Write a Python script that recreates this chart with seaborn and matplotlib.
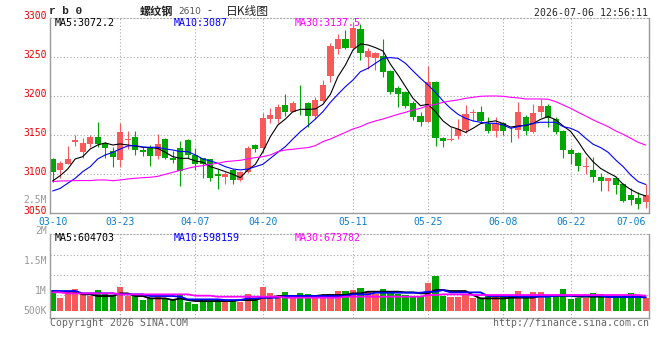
import numpy as np
import matplotlib
matplotlib.use("Agg")
import matplotlib.pyplot as plt
import matplotlib.transforms as mtransforms
import seaborn as sns

# => Data (rb0 daily K line, 03-10 .. 07-06)
tick_idx = [0, 9, 19, 28, 40, 50, 60, 69, 79]
tick_labels = ["03-10", "03-23", "04-07", "04-20", "05-11", "05-25", "06-08", "06-22", "07-06"]
price_ticks = [3050, 3100, 3150, 3200, 3250, 3300]
vol_tick_labels = ["2.5M", "2M", "1.5M", "1M", "500K"]
ma_labels = ["MA5:3072.2", "MA10:3087", "MA30:3137.5"]
vol_ma_labels = ["MA5:604703", "MA10:598159", "MA30:673782"]

opens = [3119.7, 3105.6, 3113.2, 3141.9, 3129.1, 3139.3, 3147.9, 3140.2, 3129.9, 3118.8,
         3144.4, 3147.9, 3131.6, 3135.0, 3123.5, 3145.3, 3121.4, 3134.2, 3144.0, 3124.8,
         3120.5, 3119.7, 3100.0, 3097.0, 3105.6, 3092.7, 3102.6, 3137.6, 3133.3, 3170.9,
         3170.9, 3188.9, 3180.3, 3190.6, 3191.0, 3175.2, 3194.0, 3226.5, 3260.7, 3273.5,
         3261.5, 3286.3, 3250.0, 3249.6, 3252.1, 3232.5, 3211.1, 3205.1, 3191.0, 3174.8,
         3167.5, 3218.7, 3147.0, 3144.4, 3149.6, 3156.8, 3179.1, 3179.5, 3164.1, 3155.6,
         3165.4, 3157.3, 3156.8, 3173.9, 3154.7, 3179.5, 3188.0, 3170.9, 3155.6, 3131.6,
         3127.4, 3109.4, 3105.6, 3096.6, 3091.9, 3095.7, 3087.6, 3073.5, 3070.1, 3065.0]
highs = [3120.5, 3117.5, 3136.8, 3150.4, 3146.2, 3150.4, 3167.5, 3141.9, 3135.5, 3166.2,
         3155.6, 3155.6, 3135.5, 3137.6, 3152.1, 3146.0, 3129.9, 3142.7, 3145.3, 3134.2,
         3121.4, 3120.0, 3106.8, 3103.4, 3106.8, 3104.3, 3136.8, 3138.5, 3179.1, 3185.5,
         3189.7, 3202.6, 3194.0, 3214.5, 3192.3, 3199.6, 3220.9, 3267.9, 3279.5, 3285.0,
         3294.9, 3292.3, 3262.4, 3257.3, 3273.5, 3233.8, 3213.7, 3206.8, 3194.0, 3180.3,
         3239.3, 3219.0, 3148.3, 3161.1, 3170.9, 3188.9, 3183.8, 3188.0, 3173.9, 3173.9,
         3166.7, 3161.1, 3193.2, 3176.1, 3189.7, 3196.6, 3189.7, 3173.9, 3156.8, 3134.2,
         3129.1, 3122.6, 3122.6, 3101.3, 3095.7, 3097.0, 3088.5, 3082.9, 3077.8, 3087.6]
lows = [3090.5, 3094.9, 3113.2, 3136.3, 3120.5, 3135.5, 3135.5, 3121.4, 3109.8, 3109.4,
        3132.0, 3124.8, 3123.9, 3111.1, 3119.7, 3119.7, 3114.5, 3085.5, 3120.5, 3105.6,
        3095.7, 3091.5, 3081.2, 3087.2, 3087.2, 3091.9, 3101.3, 3128.2, 3126.9, 3165.4,
        3165.4, 3175.2, 3179.5, 3176.1, 3161.1, 3170.9, 3192.3, 3218.8, 3253.8, 3260.7,
        3259.4, 3246.6, 3235.0, 3233.8, 3225.2, 3202.6, 3186.8, 3185.5, 3169.7, 3162.4,
        3166.7, 3136.3, 3135.5, 3142.7, 3145.3, 3152.6, 3168.4, 3165.4, 3152.6, 3148.3,
        3150.4, 3141.9, 3147.0, 3150.4, 3152.6, 3173.9, 3161.1, 3151.3, 3121.4, 3113.7,
        3104.3, 3100.0, 3090.6, 3078.6, 3078.6, 3074.4, 3065.0, 3060.7, 3055.6, 3057.0]
closes = [3103.4, 3114.1, 3119.7, 3143.6, 3140.2, 3147.9, 3139.3, 3134.2, 3122.6, 3154.3,
          3145.7, 3131.6, 3128.2, 3123.9, 3138.9, 3120.5, 3118.4, 3104.7, 3124.8, 3113.7,
          3112.8, 3095.7, 3098.3, 3100.0, 3092.7, 3102.6, 3134.2, 3132.5, 3171.8, 3176.1,
          3186.8, 3180.3, 3191.5, 3189.7, 3175.2, 3195.3, 3214.5, 3264.5, 3273.5, 3262.4,
          3288.0, 3255.1, 3258.1, 3255.1, 3231.6, 3205.1, 3203.0, 3188.0, 3173.9, 3167.5,
          3217.9, 3146.2, 3143.2, 3145.3, 3158.1, 3176.9, 3180.0, 3168.4, 3155.6, 3165.4,
          3155.6, 3156.4, 3179.5, 3155.6, 3178.2, 3188.0, 3171.8, 3154.7, 3130.8, 3126.5,
          3111.1, 3110.3, 3097.0, 3091.9, 3095.7, 3086.3, 3065.8, 3067.1, 3061.5, 3074.0]

ma5 = [3091.5, 3098.3, 3106.8, 3119.7, 3122.6, 3132.5, 3137.6, 3140.2, 3137.6, 3138.9,
       3137.6, 3136.3, 3134.6, 3134.2, 3133.3, 3128.2, 3122.6, 3120.5, 3120.5, 3117.1,
       3115.4, 3109.8, 3106.8, 3103.4, 3100.0, 3095.7, 3105.6, 3112.8, 3129.1, 3148.3,
       3163.2, 3170.9, 3180.3, 3183.3, 3183.3, 3183.8, 3189.7, 3202.6, 3225.2, 3240.2,
       3259.4, 3267.1, 3265.8, 3262.4, 3258.1, 3241.0, 3227.4, 3212.4, 3197.4, 3188.0,
       3189.7, 3180.3, 3168.4, 3161.1, 3158.0, 3153.8, 3159.0, 3165.0, 3167.0, 3168.5,
       3165.0, 3160.5, 3162.0, 3162.5, 3165.0, 3170.5, 3174.0, 3170.0, 3162.0, 3155.0,
       3142.0, 3127.5, 3116.0, 3107.5, 3102.0, 3097.0, 3087.0, 3080.5, 3075.5, 3072.2]
ma10 = [3078.6, 3082.0, 3088.5, 3094.9, 3103.4, 3109.8, 3119.7, 3124.8, 3128.2, 3132.5,
        3136.3, 3136.8, 3135.0, 3134.6, 3134.6, 3132.5, 3131.2, 3129.1, 3129.1, 3124.8,
        3119.7, 3117.1, 3114.1, 3109.8, 3106.8, 3105.6, 3106.8, 3109.8, 3112.8, 3120.5,
        3128.2, 3135.5, 3145.3, 3154.7, 3162.4, 3170.9, 3180.3, 3192.3, 3202.6, 3212.4,
        3220.9, 3231.6, 3235.9, 3242.3, 3248.7, 3249.6, 3248.7, 3242.3, 3232.5, 3223.1,
        3214.5, 3205.0, 3194.0, 3184.6, 3176.9, 3171.8, 3168.4, 3166.7, 3165.4, 3165.4,
        3163.2, 3159.0, 3161.1, 3163.2, 3165.4, 3166.7, 3166.7, 3166.7, 3161.1, 3159.0,
        3154.7, 3146.2, 3138.5, 3134.2, 3128.2, 3118.4, 3109.8, 3099.1, 3090.6, 3087.0]
ma30 = [3090.6, 3091.5, 3091.5, 3091.9, 3092.0, 3092.0, 3092.7, 3092.7, 3091.9, 3092.7,
        3094.0, 3094.9, 3095.7, 3096.2, 3097.4, 3100.0, 3102.6, 3105.1, 3107.7, 3109.8,
        3111.1, 3112.8, 3114.1, 3116.2, 3117.1, 3118.0, 3119.7, 3121.4, 3122.6, 3124.8,
        3129.1, 3131.2, 3132.1, 3133.3, 3134.2, 3136.8, 3141.9, 3145.3, 3149.6, 3153.8,
        3158.1, 3161.1, 3165.4, 3168.4, 3170.9, 3173.9, 3176.9, 3179.5, 3182.5, 3184.6,
        3188.0, 3189.7, 3192.3, 3194.0, 3195.3, 3197.4, 3198.7, 3200.0, 3200.4, 3200.4,
        3200.0, 3198.7, 3197.9, 3196.6, 3196.6, 3196.6, 3196.2, 3193.2, 3188.9, 3184.6,
        3179.5, 3174.8, 3169.7, 3165.4, 3161.1, 3155.6, 3151.3, 3146.2, 3141.0, 3137.5]

# volume in thousands of lots
volumes_k = [928, 584, 853, 973, 734, 659, 928, 778, 704, 1078,
             659, 659, 479, 584, 629, 584, 479, 749, 404, 314,
             524, 434, 524, 434, 434, 374, 749, 524, 1063, 808,
             659, 853, 584, 808, 734, 584, 584, 749, 883, 883,
             928, 1033, 853, 734, 973, 853, 734, 704, 659, 659,
             1257, 1557, 659, 629, 629, 763, 584, 554, 659, 659,
             674, 659, 883, 704, 853, 853, 659, 704, 973, 524,
             584, 584, 808, 734, 584, 659, 659, 808, 659, 584]
vol_ma5 = [883, 853, 853, 853, 734, 734, 659, 659, 659, 778,
           778, 659, 659, 554, 554, 554, 479, 554, 479, 434,
           434, 434, 434, 434, 434, 479, 479, 479, 584, 584,
           659, 659, 659, 659, 659, 659, 704, 704, 704, 704,
           778, 778, 853, 853, 853, 853, 853, 823, 823, 778,
           778, 928, 928, 883, 883, 883, 704, 554, 554, 554,
           554, 584, 584, 584, 584, 674, 674, 674, 674, 674,
           629, 629, 629, 629, 629, 629, 629, 629, 620, 605]
vol_ma10 = [883, 883, 883, 883, 778, 778, 778, 778, 778, 734,
            734, 734, 734, 659, 659, 659, 659, 629, 509, 509,
            509, 509, 509, 479, 479, 479, 554, 554, 584, 584,
            584, 659, 659, 659, 659, 659, 659, 659, 659, 659,
            734, 734, 734, 808, 808, 808, 808, 808, 808, 808,
            853, 853, 928, 823, 823, 823, 823, 823, 659, 659,
            659, 659, 629, 629, 629, 629, 629, 674, 674, 674,
            674, 674, 674, 674, 614, 614, 614, 614, 614, 598]
vol_ma30 = [823, 823, 778, 778, 778, 778, 778, 778, 778, 734,
            734, 734, 734, 734, 734, 734, 734, 734, 734, 674,
            674, 674, 629, 629, 629, 629, 629, 629, 629, 629,
            629, 584, 584, 584, 584, 584, 584, 584, 584, 629,
            629, 629, 629, 629, 629, 629, 629, 629, 629, 629,
            704, 704, 734, 734, 734, 734, 704, 704, 704, 704,
            704, 704, 704, 704, 704, 704, 704, 704, 704, 704,
            704, 704, 704, 704, 704, 704, 704, 704, 704, 674]

# => Style
sns.set_theme(style="white")
plt.rcParams['font.family'] = ['DejaVu Sans Mono', 'DejaVu Sans']
RED = "#f65a5a"
GREEN = "#00a600"
GRID = "#aaaaaa"
FRAME = "#999999"
MA_COLORS = ["#000000", "#0000ff", "#ff00ff"]
DOT = (0, (1, 2))

W, H = 660, 360
def px(x, y):
    return x / W, 1 - y / H

fig = plt.figure(figsize=(6.6, 3.6), dpi=100)
fig.patch.set_facecolor("white")
ax = fig.add_axes([50 / W, 1 - 213.3 / H, 599 / W, 195 / H])
axv = fig.add_axes([50 / W, 1 - 317.7 / H, 599 / W, 83.4 / H])

o = np.array(opens); h = np.array(highs); l = np.array(lows); c = np.array(closes)
x = np.arange(len(c))
col = np.where(c >= o, RED, GREEN)

# => Candles
ax.vlines(x, l, h, colors=col, lw=0.8, zorder=2)
ax.bar(x, np.maximum(np.abs(c - o), 1.0), bottom=np.minimum(o, c), width=0.82,
       color=col, linewidth=0, zorder=2)
for vals, colr in zip([ma5, ma10, ma30], MA_COLORS):
    sns.lineplot(x=x, y=np.array(vals), ax=ax, color=colr, linewidth=0.8, legend=False, zorder=3)

# => Volume
axv.bar(x, volumes_k, width=0.82, color=col, linewidth=0, zorder=2)
for vals, colr in zip([vol_ma5, vol_ma10, vol_ma30], MA_COLORS):
    sns.lineplot(x=x, y=np.array(vals), ax=axv, color=colr, linewidth=1.3, legend=False, zorder=3)

for a in (ax, axv):
    a.set_xlim(-0.36, 79.44)
    a.set_xlabel(""); a.set_ylabel("")
    a.set_yticks([])
    for i in tick_idx[1:-1]:
        a.axvline(i, color=GRID, lw=0.8, ls=DOT, zorder=0)
    for s in ("left", "bottom", "right"):
        a.spines[s].set_color(FRAME); a.spines[s].set_linewidth(1.0)
    a.spines["top"].set_color(GRID); a.spines["top"].set_linestyle(DOT); a.spines["top"].set_linewidth(0.8)

ax.set_ylim(3050, 3300)
axv.set_ylim(-314, 3430)
for v in price_ticks[1:-1]:
    ax.axhline(v, color=GRID, lw=0.8, ls=DOT, zorder=0)
for v in [2500, 1600, 700]:
    axv.axhline(v, color=GRID, lw=0.8, ls=DOT, zorder=0)

# price labels on the left
trans = mtransforms.blended_transform_factory(ax.transAxes, ax.transData)
trans = mtransforms.offset_copy(trans, fig=fig, x=-3, y=2, units="dots")
for v in price_ticks:
    ax.text(0, v, str(v), transform=trans, ha="right", va="center", color="#ee0000", fontsize=7)

# volume labels (drawn where the source puts them)
for lab, yy in zip(vol_tick_labels, [200, 231, 260.7, 290.5, 310.7]):
    fig.text(*px(47, yy), lab, ha="right", va="center", color="#999999", fontsize=7)

# date labels
ax.set_xticks(tick_idx)
ax.set_xticklabels(tick_labels)
ax.tick_params(axis="x", length=0, pad=3, labelsize=7, labelcolor="#0a7fd0")
ax.get_xticklabels()[-1].set_ha("right")
axv.set_xticks([])

# MA value labels
for lab, xx, colr in zip(ma_labels, [55, 174, 295], MA_COLORS):
    fig.text(*px(xx, 23), lab, ha="left", va="center", color=colr, fontsize=7.2)
for lab, xx, colr in zip(vol_ma_labels, [55, 174, 295], MA_COLORS):
    fig.text(*px(xx, 238), lab, ha="left", va="center", color=colr, fontsize=7.2)

# header
fig.text(*px(49, 11), "r b 0", ha="left", va="center", fontsize=8, weight="bold",
         family=["Liberation Mono", "DejaVu Sans Mono"])
cjk = ["Noto Sans CJK SC", "DejaVu Sans"]
fig.text(*px(140, 11), "螺纹钢", ha="left", va="center", fontsize=8, weight="bold", family=cjk)
fig.text(*px(178, 11.5), "2610", ha="left", va="center", fontsize=6.5, color="#555555", family=["DejaVu Sans"])
fig.text(*px(207, 11), "-", ha="left", va="center", fontsize=8, family=cjk)
fig.text(*px(226, 11), "日K线图", ha="left", va="center", fontsize=8.5, family=cjk)
fig.text(*px(648, 12.5), "2026-07-06 12:56:11", ha="right", va="center", fontsize=7.1)

# footer
fig.text(*px(50, 323.3), "Copyright 2026 SINA.COM", ha="left", va="center", fontsize=7.1, color="#666666")
fig.text(*px(649, 323.3), "http://finance.sina.com.cn", ha="right", va="center", fontsize=7.1, color="#666666")

fig.savefig("out.png", dpi=100, facecolor="white")
